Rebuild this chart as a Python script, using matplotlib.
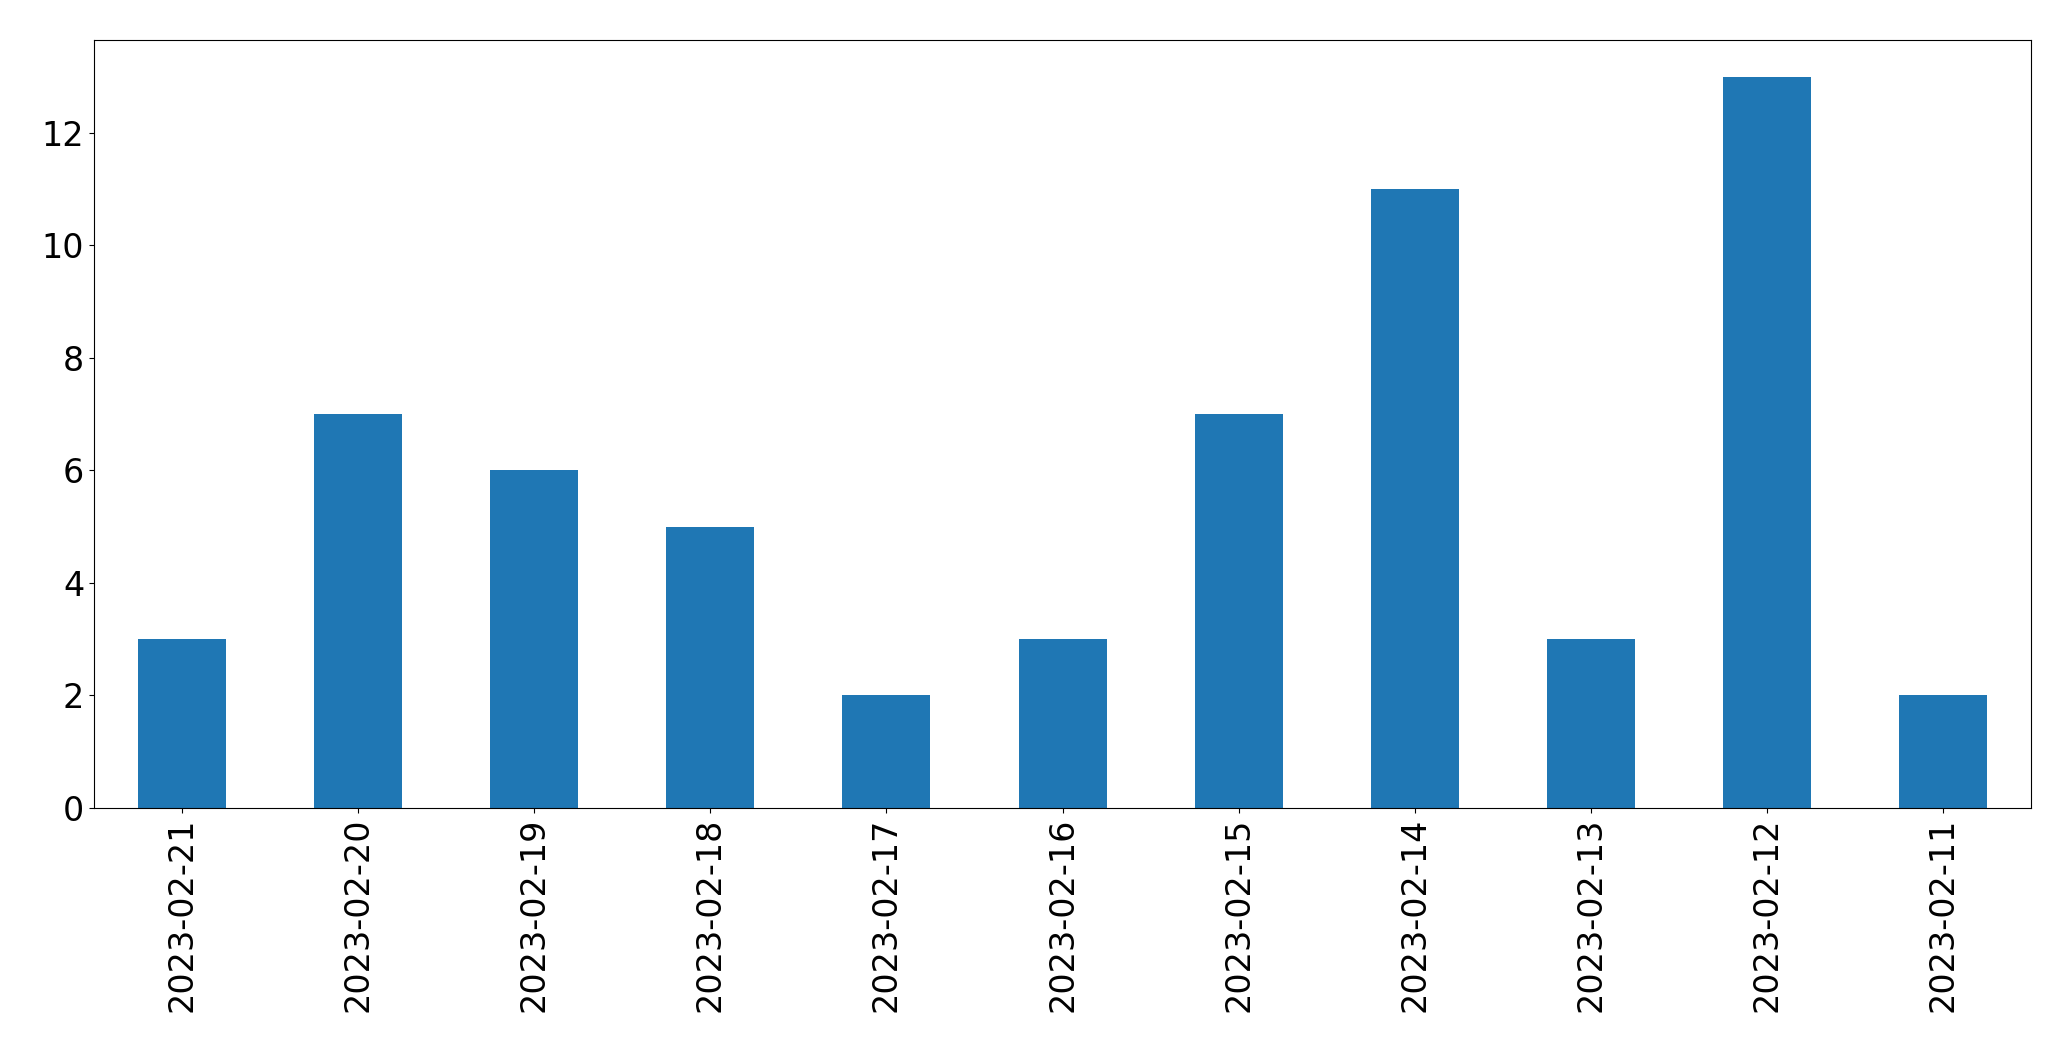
import matplotlib
matplotlib.use("Agg")
import matplotlib.pyplot as plt

dates = ["2023-02-21", "2023-02-20", "2023-02-19", "2023-02-18", "2023-02-17",
         "2023-02-16", "2023-02-15", "2023-02-14", "2023-02-13", "2023-02-12",
         "2023-02-11"]
counts = [3, 7, 6, 5, 2, 3, 7, 11, 3, 13, 2]

fig = plt.figure(figsize=(20.71, 10.61), dpi=100)
ax = fig.add_axes([0.0454, 0.2385, 0.9353, 0.7238])
x = range(len(dates))
ax.bar(x, counts, width=0.5, color="#1f77b4")
ax.set_xticks(list(x))
ax.set_xticklabels(dates, rotation=90)
ax.set_xlim(-0.5, len(dates) - 0.5)
ax.tick_params(labelsize=24)
fig.savefig("out.png", dpi=100)
